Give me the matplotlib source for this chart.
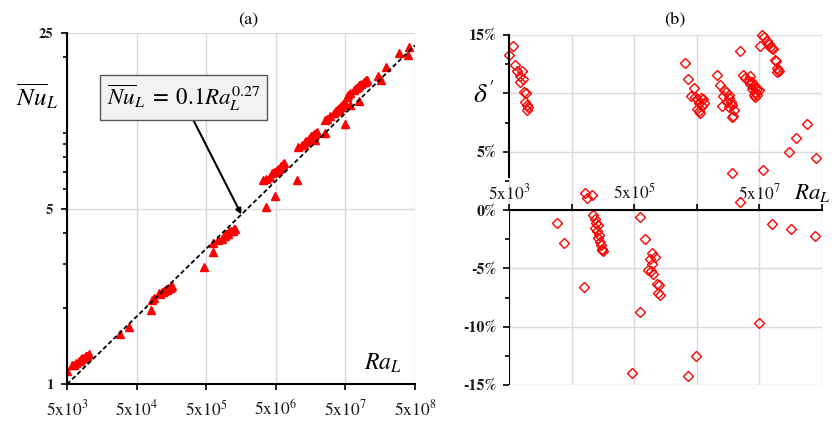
import numpy as np
import matplotlib
matplotlib.use('Agg')
import matplotlib.pyplot as plt
from matplotlib.ticker import FixedLocator, NullFormatter, NullLocator

plt.rcParams['font.family'] = 'STIXGeneral'
plt.rcParams['mathtext.fontset'] = 'stix'

# Rayleigh number, mean Nusselt number and deviation from the correlation (%)
ra = [5000, 5874, 6295, 6745, 7924, 7396, 7568, 8298, 8689, 9311, 9099, 9528, 10209, 9750,
      28770, 38370, 79250,
      82200, 104500, 88900, 109400, 117200, 122700, 131500, 119900, 125600, 137700, 134600,
      144200, 147600, 151000, 161800, 154500,
      466700, 625000, 630000, 739500, 952500, 889000, 1069000, 975000, 849000, 931000,
      1021000, 1146000, 1256000, 1199000, 1315000,
      3.30e6, 3.62e6, 3.60e6, 4.46e6, 4.06e6, 4.78e6, 5.00e6, 5.87e6, 6.29e6, 6.59e6,
      5.02e6, 5.48e6, 6.01e6, 5.36e6, 5.74e6, 4.89e6,
      9.98e6,
      1.045e7, 1.172e7, 1.346e7, 1.476e7, 1.618e7, 1.315e7, 1.656e7, 1.774e7, 1.510e7,
      1.816e7, 1.620e7, 1.256e7, 1.945e7, 1.901e7, 1.858e7, 1.820e7, 2.506e7,
      2.510e7, 2.748e7, 3.013e7, 3.622e7, 3.381e7, 3.793e7, 3.630e7, 4.064e7, 4.355e7,
      3.881e7, 4.667e7, 4.886e7, 4.360e7, 4.070e7, 4.670e7, 4.350e7,
      5.48e7, 5.87e7, 5.24e7, 6.59e7, 7.06e7, 7.57e7, 7.92e7, 8.30e7, 9.10e7, 9.31e7,
      9.53e7, 1.021e8, 9.75e7, 9.98e7,
      5.74e7, 1.476e8, 1.945e8, 2.944e8, 4.064e8, 7.93e7, 1.618e8, 3.972e8, 5.00e7]

nu = [1.130, 1.188, 1.192, 1.210, 1.263, 1.235, 1.238, 1.272, 1.275, 1.297, 1.281, 1.294, 1.315, 1.297,
      1.582, 1.680, 1.964,
      2.155, 2.294, 2.191, 2.284, 2.318, 2.340, 2.379, 2.316, 2.338, 2.390, 2.368,
      2.405, 2.412, 2.420, 2.460, 2.432,
      2.918, 3.357, 3.657, 3.747, 3.963, 3.869, 4.074, 3.950, 3.785, 3.876,
      3.961, 4.052, 4.149, 4.067, 4.160,
      6.479, 6.560, 5.061, 6.894, 6.682, 6.974, 7.050, 7.369, 7.501, 7.574,
      6.998, 7.161, 7.369, 7.162, 7.238, 5.597,
      6.516,
      8.764, 8.969, 9.276, 9.492, 9.713, 9.177, 9.747, 9.904, 9.482,
      9.939, 9.616, 8.989, 10.089, 9.980, 9.909, 9.410, 10.012,
      11.300, 11.380, 11.636, 12.252, 11.983, 12.349, 12.175, 12.547, 12.759,
      12.358, 12.988, 13.139, 12.713, 12.456, 12.930, 12.667,
      14.137, 14.372, 13.847, 14.787, 15.032, 15.289, 15.460, 15.641, 15.908, 15.992,
      16.006, 16.264, 16.049, 16.178,
      12.871, 16.855, 18.378, 20.782, 22.047, 13.414, 16.192, 20.513, 10.824]

dev = [13.3, 14.1, 12.4, 11.9, 11.9, 11.5, 11.0, 11.2, 10.1, 10.0, 9.3, 9.0, 8.8, 8.6,
       -1.1, -2.8, -6.6,
       1.5, 1.3, 1.0, -0.4, -0.8, -1.1, -1.3, -1.5, -1.8, -2.1, -2.4,
       -2.7, -3.0, -3.3, -3.5, -3.4,
       -14.0, -8.7, -0.6, -2.5, -3.7, -4.2, -4.0, -4.6, -5.1, -5.2,
       -5.5, -6.3, -6.4, -7.1, -7.3,
       12.6, 11.2, -14.2, 10.5, 9.8, 9.7, 9.5, 9.6, 9.5, 9.2,
       8.7, 8.5, 8.9, 9.2, 8.3, -12.5,
       -16.0,
       11.6, 10.7, 10.3, 10.1, 9.9, 9.8, 9.6, 9.3, 9.3,
       9.0, 8.8, 8.9, 8.6, 8.1, 8.0, 3.2, 0.65,
       13.6, 11.6, 11.3, 11.5, 11.1, 11.0, 10.8, 10.7, 10.5,
       10.4, 10.4, 10.3, 10.1, 9.9, 9.9, 9.7,
       15.0, 14.8, 14.1, 14.5, 14.2, 14.0, 13.9, 13.8, 12.9, 12.8,
       12.2, 11.9, 11.8, 12.0,
       3.4, 5.0, 6.2, 7.4, 4.5, -1.2, -1.6, -2.2, -9.7]

# correlation shown in the annotation
fit_c = 0.1
fit_n = 0.27

ra_ticks = [5e3, 5e4, 5e5, 5e6, 5e7, 5e8]
ra_labels_a = ['5x10$^{3}$', '5x10$^{4}$', '5x10$^{5}$', '5x10$^{6}$', '5x10$^{7}$', '5x10$^{8}$']
ra_labels_b = ['5x10$^{3}$', '', '5x10$^{5}$', '', '5x10$^{7}$', '']
nu_ticks = [1, 5, 25]
nu_minor = [2, 3, 4, 6, 7, 8, 9, 10, 20]
dev_ticks = [-15, -10, -5, 0, 5, 10, 15]
dev_labels = ['-15%', '-10%', '-5%', '0%', '5%', '', '15%']

ra = np.array(ra)
nu = np.array(nu)
dev = np.array(dev)

grid_col = '#d9d9d9'
txt_col = '#1a1a1a'

fig = plt.figure(figsize=(8.32, 4.21), dpi=100)
ax = fig.add_axes([67/832, 37/421, 348/832, 351/421])
ax2 = fig.add_axes([509/832, 36/421, 312.7/832, 350/421])

# ---- (a) Nu vs Ra ----
ax.set_xscale('log')
ax.set_yscale('log')
ax.set_xlim(5e3, 5e8)
ax.set_ylim(1, 25)
ax.set_axisbelow(True)
ax.xaxis.set_major_locator(FixedLocator(ra_ticks))
ax.xaxis.set_minor_locator(NullLocator())
ax.set_xticklabels(ra_labels_a)
ax.yaxis.set_major_locator(FixedLocator(nu_ticks))
ax.yaxis.set_minor_locator(FixedLocator(nu_minor))
ax.yaxis.set_minor_formatter(NullFormatter())
ax.set_yticklabels([str(v) for v in nu_ticks], fontweight='bold')
ax.grid(True, which='major', color=grid_col, lw=1)
for s in ['top', 'right']:
    ax.spines[s].set_visible(False)
for s in ['left', 'bottom']:
    ax.spines[s].set_linewidth(1.5)
ax.tick_params(axis='x', which='major', length=4, width=1.2, pad=7, labelsize=12.5, labelcolor=txt_col)
ax.tick_params(axis='y', which='major', length=4, width=1.2, pad=6, labelsize=10.5, labelcolor=txt_col)
ax.tick_params(axis='y', which='minor', length=3, width=1.2)

ax.plot(ra, nu, '^', color='red', ms=6, lw=0)
ra_line = np.array([5e3, 5e8])
ax.plot(ra_line, fit_c * ra_line**fit_n, '--', color='black', lw=1.3, dashes=(2.5, 1.5))

ra_tip = 1.6e6
ax.annotate(r'$\overline{Nu}_L\;=\;0.1Ra_L^{0.27}$', xy=(ra_tip, fit_c * ra_tip**fit_n),
            xytext=(0.335, 0.816), textcoords='axes fraction', ha='center', va='center',
            fontsize=16.5,
            bbox=dict(boxstyle='square,pad=0.3', fc='#f2f2f2', ec='#595959', lw=1),
            arrowprops=dict(arrowstyle='-|>', color='black', lw=1.5, mutation_scale=8,
                            relpos=(0.54, 0), shrinkA=0, shrinkB=0))

ax.text(0.908, 0.06, r'$Ra_L$', transform=ax.transAxes, fontsize=17, ha='center', va='center')
fig.text(37/832, 1 - 97/421, r'$\overline{Nu}_L$', fontsize=18, ha='center', va='center')
fig.text(248/832, 1 - 20/421, '(a)', fontsize=13, ha='center', va='center')

# ---- (b) deviation vs Ra ----
ax2.set_xscale('log')
ax2.set_xlim(5e3, 5e8)
ax2.set_ylim(-15, 15)
ax2.set_axisbelow(True)
ax2.xaxis.set_major_locator(FixedLocator(ra_ticks))
ax2.xaxis.set_minor_locator(NullLocator())
ax2.set_xticklabels(ra_labels_b)
ax2.yaxis.set_major_locator(FixedLocator(dev_ticks))
ax2.yaxis.set_minor_locator(FixedLocator([-12.5, -7.5, -2.5, 2.5, 7.5, 12.5]))
ax2.set_yticklabels(dev_labels, fontweight='bold')
ax2.grid(True, which='major', color=grid_col, lw=1)
ax2.spines['top'].set_visible(False)
ax2.spines['right'].set_visible(False)
ax2.spines['bottom'].set_position(('data', 0))
ax2.spines['bottom'].set_linewidth(1.5)
ax2.spines['left'].set_linewidth(1.5)
ax2.spines['left'].set_bounds(2.8, 15)
ax2.axvline(5e3, ymin=0, ymax=0.5, color='black', lw=1.5)
ax2.tick_params(axis='x', which='major', direction='in', length=4, width=1.2, pad=-19.5,
                labelsize=12.5, labelcolor=txt_col)
ax2.tick_params(axis='y', which='major', length=4, width=1.2, pad=5, labelsize=11.5, labelcolor=txt_col)
ax2.tick_params(axis='y', which='minor', length=3, width=1.2)

inside = (dev >= -15) & (dev <= 15)
ax2.plot(ra[inside], dev[inside], 'D', mfc='none', mec='red', mew=1.0, ms=5, lw=0, clip_on=False)

ax2.text(0.912, 0.549, r'$Ra_L$', transform=ax2.transAxes, fontsize=16.5, ha='left', va='center',
         clip_on=False)
fig.text(484/832, 1 - 96/421, r"$\delta'$", fontsize=20, ha='center', va='center')
fig.text(675/832, 1 - 20/421, '(b)', fontsize=13, ha='center', va='center')

fig.savefig('out.png', dpi=100)
